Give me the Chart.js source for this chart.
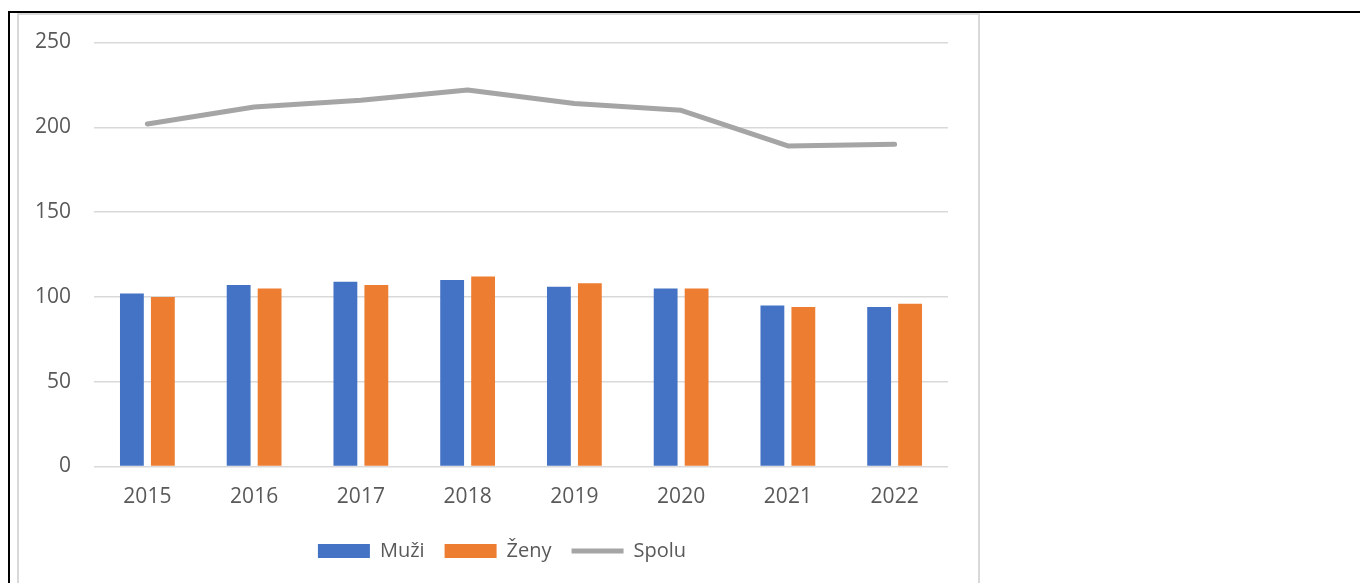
<!DOCTYPE html>
<html>
<head>
<meta charset="utf-8">
<script src="https://cdn.jsdelivr.net/npm/chart.js@4.4.0/dist/chart.umd.min.js"></script>
<style>
  html, body { margin: 0; padding: 0; background: #fff; }
  body { width: 1360px; height: 583px; position: relative; overflow: hidden; }
  .frame {
    position: absolute; left: 8px; top: 11px; width: 1360px; height: 600px;
    border-top: 2.5px solid #000; border-left: 2.5px solid #000;
  }
  .chart-box {
    position: absolute; left: 17px; top: 13px; width: 959px; height: 600px;
    border-top: 2px solid #d9d9d9; border-left: 2px solid #d9d9d9; border-right: 2px solid #d9d9d9;
  }
  .chart-wrap { position: absolute; left: 19px; top: 15px; width: 959px; height: 568px; }
</style>
</head>
<body>
<div class="frame"></div>
<div class="chart-box"></div>
<div class="chart-wrap"><canvas id="trendChart"></canvas></div>
<script>
// --- DATA ---
const years = ['2015', '2016', '2017', '2018', '2019', '2020', '2021', '2022'];
const muzi = [102, 107, 109, 110, 106, 105, 95, 94];
const zeny = [100, 105, 107, 112, 108, 105, 94, 96];
const spolu = [202, 212, 216, 222, 214, 210, 189, 190];

const textColor = '#595959';
const gridColor = '#d9d9d9';
const fontFamily = "'Open Sans', sans-serif";

// legend sits a bit right of the canvas centre in the original
const legendShift = {
    id: 'legendShift',
    afterLayout(chart) { chart.legend.left += 37; }
};

// --- CHART ---
const ctx = document.getElementById('trendChart').getContext('2d');

const chart = new Chart(ctx, {
    type: 'bar',
    data: {
        labels: years,
        datasets: [
            {
                label: 'Muži',
                data: muzi,
                backgroundColor: '#4472c4',
                borderWidth: 0,
                pointStyle: 'rect',
                categoryPercentage: 0.58,
                barPercentage: 0.77
            },
            {
                label: 'Ženy',
                data: zeny,
                backgroundColor: '#ed7d31',
                borderWidth: 0,
                pointStyle: 'rect',
                categoryPercentage: 0.58,
                barPercentage: 0.77
            },
            {
                type: 'line',
                label: 'Spolu',
                data: spolu,
                borderColor: '#a5a5a5',
                backgroundColor: '#a5a5a5',
                borderWidth: 5,
                borderCapStyle: 'round',
                borderJoinStyle: 'round',
                pointRadius: 0,
                pointHoverRadius: 0,
                pointStyle: 'line',
                tension: 0
            }
        ]
    },
    options: {
        responsive: true,
        maintainAspectRatio: false,
        animation: false,
        layout: { padding: { left: 0, right: 30, top: 27.5, bottom: 12 } },
        scales: {
            x: {
                grid: { display: false, drawTicks: false },
                border: { display: false },
                ticks: { color: textColor, padding: 18, font: { family: fontFamily, size: 21 } },
                afterFit: (scale) => { scale.height = 54.5; }
            },
            y: {
                min: 0,
                max: 250,
                ticks: { stepSize: 50, color: textColor, padding: 23, font: { family: fontFamily, size: 21 } },
                grid: { color: gridColor, lineWidth: 1.5, drawTicks: false },
                border: { display: false },
                afterFit: (scale) => {
                    scale.width = 75;
                    scale.paddingTop = 0;
                    scale.paddingBottom = 0;
                }
            }
        },
        plugins: {
            tooltip: { enabled: false },
            legend: {
                position: 'bottom',
                labels: {
                    usePointStyle: true,
                    pointStyleWidth: 52,
                    boxHeight: 14,
                    padding: 20,
                    color: textColor,
                    font: { family: fontFamily, size: 20 }
                }
            }
        }
    },
    plugins: [legendShift]
});
</script>
</body>
</html>
